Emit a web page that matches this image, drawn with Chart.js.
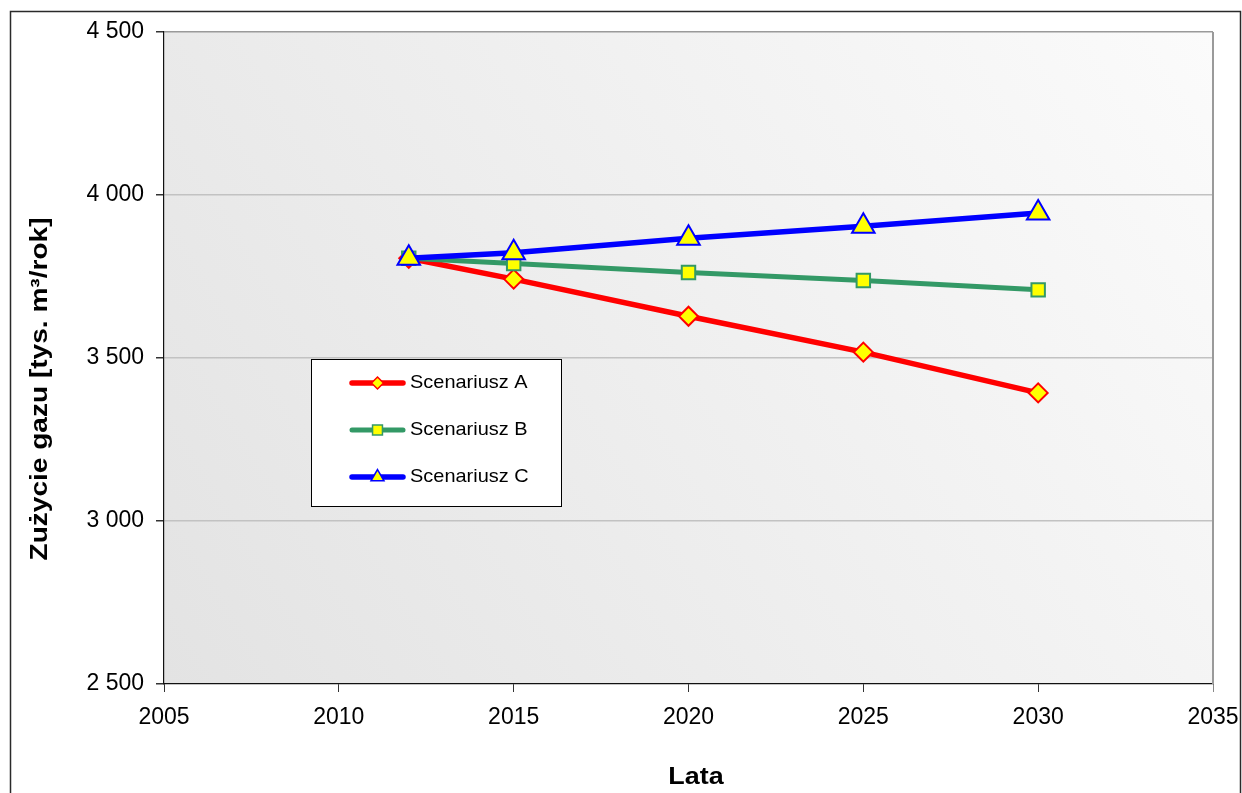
<!DOCTYPE html>
<html>
<head>
<meta charset="utf-8">
<script src="https://cdn.jsdelivr.net/npm/chart.js@4.4.0/dist/chart.umd.min.js"></script>
<style>
    html, body { margin: 0; padding: 0; background: #fff; }
    #wrap { width: 1242px; height: 793px; }
</style>
</head>
<body>
<div id="wrap"><canvas id="myChart" width="1242" height="793"></canvas></div>
<script>
// values
const years = [2012, 2015, 2020, 2025, 2030];
const scenario_a = [3806, 3742, 3628, 3518, 3393];
const scenario_b = [3806, 3790, 3762, 3738, 3709];
const scenario_c = [3806, 3823, 3867, 3904, 3945];
const series_names = ['Scenariusz A', 'Scenariusz B', 'Scenariusz C'];
const x_ticks = [2005, 2010, 2015, 2020, 2025, 2030, 2035];
const y_ticks = [2500, 3000, 3500, 4000, 4500];
const x_title = 'Lata';
const y_title = 'Zużycie gazu [tys. m³/rok]';

const font_name = "'Liberation Sans', Arial, sans-serif";

function toPoints(values) {
    return years.map(function (yr, i) { return { x: yr, y: values[i] } });
}

function fmtThousands(v) {
    return String(v).replace(/\B(?=(\d{3})+(?!\d))/g, ' ');
}

// background gradient + outer frame + right border of the plot
const framePlugin = {
    id: 'frame',
    beforeDraw(chart) {
        const ctx = chart.ctx;
        const a = chart.chartArea;
        ctx.save();
        ctx.fillStyle = '#fff';
        ctx.fillRect(0, 0, chart.width, chart.height);
        const g = ctx.createLinearGradient(a.left, a.bottom, a.right, a.top);
        g.addColorStop(0, '#e3e3e3');
        g.addColorStop(1, '#fbfbfb');
        ctx.fillStyle = g;
        ctx.fillRect(a.left, a.top, a.right - a.left, a.bottom - a.top);
        ctx.strokeStyle = '#2a2a2a';
        ctx.lineWidth = 1.5;
        ctx.strokeRect(10.5, 11.5, 1230, 800);
        ctx.restore();
    },
    beforeDatasetsDraw(chart) {
        const ctx = chart.ctx;
        const a = chart.chartArea;
        ctx.save();
        ctx.strokeStyle = '#9a9a9a';
        ctx.lineWidth = 2;
        ctx.beginPath();
        ctx.moveTo(a.right, a.top);
        ctx.lineTo(a.right, a.bottom);
        ctx.stroke();
        ctx.restore();
    }
};

// axis titles, slightly stretched like the original
const titlePlugin = {
    id: 'titles',
    afterDraw(chart) {
        const ctx = chart.ctx;
        ctx.save();
        ctx.fillStyle = '#000';
        ctx.textAlign = 'center';
        ctx.textBaseline = 'middle';
        ctx.font = 'bold 24px ' + font_name;
        ctx.save();
        ctx.translate(696, 777);
        ctx.scale(1.12, 1);
        ctx.fillText(x_title, 0, 0);
        ctx.restore();
        ctx.save();
        ctx.translate(41, 389);
        ctx.rotate(-Math.PI / 2);
        ctx.scale(1.22, 1);
        ctx.font = 'bold 23px ' + font_name;
        ctx.fillText(y_title, 0, 0);
        ctx.restore();
        ctx.restore();
    }
};

// boxed legend inside the plot area
const legendPlugin = {
    id: 'boxLegend',
    afterDraw(chart) {
        const ctx = chart.ctx;
        ctx.save();
        ctx.fillStyle = '#fff';
        ctx.fillRect(311.5, 359.5, 250, 147);
        ctx.strokeStyle = '#000';
        ctx.lineWidth = 1;
        ctx.strokeRect(311.5, 359.5, 250, 147);
        chart.data.datasets.forEach(function (ds, i) {
            const y = 383 + i * 47;
            ctx.strokeStyle = ds.borderColor;
            ctx.lineWidth = ds.borderWidth;
            ctx.lineCap = 'round';
            ctx.beginPath();
            ctx.moveTo(352, y);
            ctx.lineTo(403, y);
            ctx.stroke();
            ctx.fillStyle = ds.pointBackgroundColor;
            ctx.strokeStyle = ds.pointBorderColor;
            ctx.lineWidth = 1.5;
            Chart.helpers.drawPoint(ctx, {
                pointStyle: ds.pointStyle,
                radius: ds.legendRadius,
                borderWidth: 1.5,
                rotation: 0
            }, 377.5, y);
            ctx.save();
            ctx.fillStyle = '#000';
            ctx.font = '19px ' + font_name;
            ctx.textAlign = 'left';
            ctx.textBaseline = 'middle';
            ctx.translate(410, y);
            ctx.scale(1.05, 1);
            ctx.fillText(ds.label, 0, 0);
            ctx.restore();
        });
        ctx.restore();
    }
};

new Chart('myChart', {
    type: 'line',
    data: {
        datasets: [{
            label: series_names[0],
            data: toPoints(scenario_a),
            borderColor: '#ff0000',
            borderWidth: 5.5,
            pointStyle: 'rectRot',
            pointRadius: 9.5,
            legendRadius: 6,
            pointBackgroundColor: '#ffff00',
            pointBorderColor: '#ff0000',
            pointBorderWidth: 2,
            order: 3
        },
        {
            label: series_names[1],
            data: toPoints(scenario_b),
            borderColor: '#339966',
            borderWidth: 5,
            pointStyle: 'rect',
            pointRadius: 9.5,
            legendRadius: 7,
            pointBackgroundColor: '#ffff00',
            pointBorderColor: '#339966',
            pointBorderWidth: 2,
            order: 2
        },
        {
            label: series_names[2],
            data: toPoints(scenario_c),
            borderColor: '#0000ff',
            borderWidth: 5.5,
            pointStyle: 'triangle',
            pointRadius: 13,
            legendRadius: 7.5,
            pointBackgroundColor: '#ffff00',
            pointBorderColor: '#0000ff',
            pointBorderWidth: 2,
            order: 1
        }]
    },
    options: {
        responsive: false,
        devicePixelRatio: 1,
        animation: false,
        layout: { padding: { left: 0, top: 32, right: 29, bottom: 0 } },
        elements: { line: { tension: 0 } },
        scales: {
            x: {
                type: 'linear',
                min: x_ticks[0],
                max: x_ticks[x_ticks.length - 1],
                afterBuildTicks: function (scale) {
                    scale.ticks = x_ticks.map(function (v) { return { value: v } });
                },
                afterFit: function (scale) {
                    scale.height = 109;
                    scale.paddingLeft = 0;
                    scale.paddingRight = 0;
                },
                grid: {
                    drawOnChartArea: false,
                    tickLength: 8,
                    tickColor: function (c) { return c.index == x_ticks.length - 1 ? '#888' : '#333' }
                },
                border: { color: '#111', width: 1.2 },
                ticks: {
                    color: '#000',
                    padding: 12,
                    maxRotation: 0,
                    autoSkip: false,
                    font: { family: font_name, size: 23 },
                    callback: function (v) { return String(v) }
                }
            },
            y: {
                min: y_ticks[0],
                max: y_ticks[y_ticks.length - 1],
                afterBuildTicks: function (scale) {
                    scale.ticks = y_ticks.map(function (v) { return { value: v } });
                },
                afterFit: function (scale) {
                    scale.width = 164;
                    scale.paddingTop = 0;
                    scale.paddingBottom = 0;
                },
                grid: {
                    tickLength: 8,
                    lineWidth: 1.5,
                    color: function (c) {
                        if (c.index == 0) return 'rgba(0,0,0,0)';
                        if (c.index == y_ticks.length - 1) return '#9a9a9a';
                        return '#c2c2c2';
                    },
                    tickColor: '#333'
                },
                border: { color: '#111', width: 1.2 },
                ticks: {
                    color: '#000',
                    padding: 12,
                    font: { family: font_name, size: 23 },
                    callback: function (v) { return fmtThousands(v) }
                }
            }
        },
        plugins: {
            legend: { display: false },
            tooltip: { enabled: false }
        }
    },
    plugins: [framePlugin, titlePlugin, legendPlugin]
});
</script>
</body>
</html>
